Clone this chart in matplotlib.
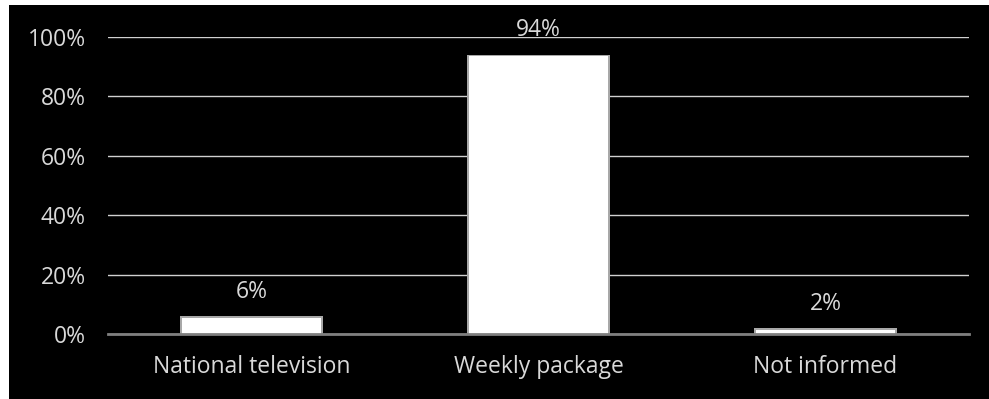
import matplotlib
matplotlib.use("Agg")
import matplotlib.pyplot as plt
from matplotlib.patches import Rectangle
from matplotlib.ticker import FuncFormatter

categories = ["National television", "Weekly package", "Not informed"]
shares = [6, 94, 2]
yticks = [0, 20, 40, 60, 80, 100]

plt.rcParams["font.family"] = ["Open Sans", "DejaVu Sans"]
text_color = "#d9d9d9"
fsize = 16.5

fig = plt.figure(figsize=(9.89, 3.99), dpi=100, facecolor="white")
fig.patches.append(Rectangle((9 / 989, -0.01), 1.0, 1.01 - 5 / 399, transform=fig.transFigure,
                             facecolor="black", edgecolor="none", zorder=-10))

ax = fig.add_axes([108 / 989, 1 - 334 / 399, 861 / 989, 297 / 399])
ax.set_facecolor("none")

x = list(range(len(categories)))
# bevelled white columns: grey rim underneath, white face on top
ax.bar(x, shares, width=0.5, color="#a8a8a8", edgecolor="none", zorder=3)
ax.bar(x, [v - 0.5 for v in shares], width=0.485, color="white", edgecolor="none", zorder=4)

for xi, v in zip(x, shares):
    ax.annotate(f"{v}%", (xi, v), xytext=(0, 9), textcoords="offset points",
                ha="center", va="bottom", color=text_color, fontsize=fsize)

ax.set_xlim(-0.5, 2.5)
ax.set_ylim(0, 100)
ax.set_yticks(yticks)
ax.yaxis.set_major_formatter(FuncFormatter(lambda v, p: f"{v:.0f}%"))
ax.set_xticks(x)
ax.set_xticklabels(categories)
ax.grid(axis="y", color="#d0d0d0", linewidth=1.0, zorder=1)
ax.set_axisbelow(True)

for side in ["top", "right", "left"]:
    ax.spines[side].set_visible(False)
ax.spines["bottom"].set_color("#7f7f7f")
ax.spines["bottom"].set_linewidth(2)
ax.spines["bottom"].set_zorder(5)

ax.tick_params(axis="both", length=0, colors=text_color, labelsize=fsize)
ax.tick_params(axis="y", pad=16)
ax.tick_params(axis="x", pad=15)

fig.savefig("out.png", dpi=100, facecolor=fig.get_facecolor())
